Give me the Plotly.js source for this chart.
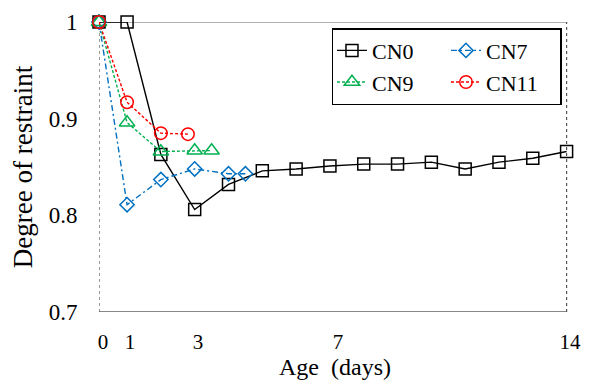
<!DOCTYPE html>
<html>
<head>
<meta charset="utf-8">
<script src="https://cdn.plot.ly/plotly-3.0.1.min.js"></script>
<style>html,body{margin:0;padding:0;background:#fff;}#chart{width:590px;height:381px;}</style>
</head>
<body>
<div id="chart"></div>
<script>
// ---- data ----
const seriesNames = ["CN0", "CN7", "CN9", "CN11"];

const cn0Age   = [0.17, 1, 2, 3, 4, 5, 6, 7, 8, 9, 10, 11, 12, 13, 14];
const cn0Value = [1.0, 1.0, 0.863, 0.806, 0.832, 0.846, 0.848, 0.851, 0.853, 0.853, 0.855, 0.848, 0.855, 0.859, 0.866];

const cn7Age   = [0.17, 1, 2, 3, 4, 4.5];
const cn7Value = [1.0, 0.811, 0.837, 0.848, 0.843, 0.843];

const cn9Age   = [0.17, 1, 2, 3, 3.5];
const cn9Value = [1.0, 0.896, 0.866, 0.867, 0.867];

const cn11Age   = [0.17, 1, 2, 2.8];
const cn11Value = [1.0, 0.917, 0.885, 0.884];

const xTickLabels = ["0", "1", "3", "7", "14"];
const xTickPos    = [0.29, 1.09, 3.10, 7.24, 14.10];
const yTickVals   = [0.7, 0.8, 0.9, 1];
const yTickLabels = ["0.7", "0.8", "0.9", "1"];

const xMin = 0.17, xMax = 14, xRangeMax = 14.13;
const yMin = 0.7, yMax = 1.0;

const FONT = "'Liberation Serif', 'Times New Roman', Times, serif";

function mk(name, x, y, color, dash, symbol, size, group) {
  return {
    type: "scatter", mode: "lines+markers", name: name, x: x, y: y,
    legendgroup: group, cliponaxis: false,
    line: {color: color, width: 1.4, dash: dash},
    marker: {symbol: symbol, size: size, color: color, line: {color: color, width: 1.5}}
  };
}

const traces = [
  mk(seriesNames[0], cn0Age, cn0Value, "#000000", "solid", "square-open", 12, "a"),
  mk(seriesNames[1], cn7Age, cn7Value, "#0070C0", "6px,3px,2px,3px", "diamond-open", 11, "b"),
  mk(seriesNames[2], cn9Age, cn9Value, "#00B050", "3px,2px", "triangle-up-open", 13.5, "a"),
  mk(seriesNames[3], cn11Age, cn11Value, "#FF0000", "3px,2px", "circle-open", 12.5, "b")
];

const layout = {
  width: 590, height: 381,
  margin: {l: 99, r: 19, t: 22, b: 69},
  paper_bgcolor: "#ffffff", plot_bgcolor: "#ffffff",
  font: {family: FONT, color: "#000000", size: 22},
  showlegend: true,
  legend: {
    orientation: "h", traceorder: "grouped",
    x: 0.4936, y: 0.979, xanchor: "left", yanchor: "top",
    bgcolor: "#ffffff", bordercolor: "#000000", borderwidth: 1.5,
    font: {family: FONT, size: 22, color: "#000000"},
    entrywidth: 69
  },
  xaxis: {
    range: [xMin, xRangeMax], showgrid: false, zeroline: false, showline: false,
    tickmode: "array", tickvals: xTickPos, ticktext: xTickLabels,
    ticks: "outside", ticklen: 11, tickcolor: "rgba(0,0,0,0)",
    tickfont: {family: FONT, size: 21},
    title: {text: "Age  (days)", font: {family: FONT, size: 24}, standoff: 0},
    automargin: false, fixedrange: true
  },
  yaxis: {
    range: [yMin, yMax], showgrid: false, zeroline: false, showline: false,
    tickmode: "array", tickvals: yTickVals, ticktext: yTickLabels,
    ticks: "outside", ticklen: 16, tickcolor: "rgba(0,0,0,0)",
    tickfont: {family: FONT, size: 23},
    title: {text: "Degree of restraint", font: {family: FONT, size: 27}, standoff: 8},
    automargin: false, fixedrange: true
  },
  shapes: [
    {type: "line", xref: "x", yref: "y", x0: xMin, x1: xMax, y0: yMin, y1: yMin, line: {color: "#888888", width: 2}, layer: "below"},
    {type: "line", xref: "x", yref: "y", x0: xMin, x1: xMax, y0: yMax, y1: yMax, line: {color: "#666666", width: 1.2}, layer: "below"},
    {type: "line", xref: "x", yref: "y", x0: xMin, x1: xMin, y0: yMin, y1: yMax, line: {color: "#555555", width: 1.2, dash: "dot"}, layer: "below"},
    {type: "line", xref: "x", yref: "y", x0: xMax, x1: xMax, y0: yMin, y1: yMax, line: {color: "#555555", width: 1.2, dash: "dot"}, layer: "below"}
  ]
};

Plotly.newPlot("chart", traces, layout, {displayModeBar: false, staticPlot: true});
</script>
</body>
</html>
